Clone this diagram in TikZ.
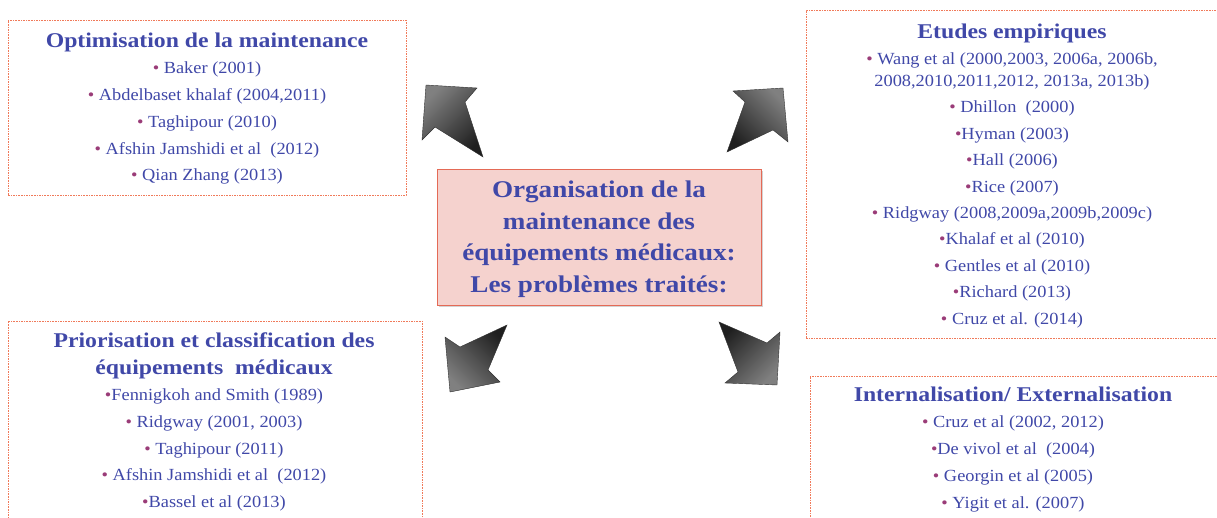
\documentclass[tikz,border=0pt]{standalone}
\usepackage{fontspec}
\setmainfont{Liberation Serif}[FakeStretch=1.08, BoldFeatures={FakeStretch=1.13}]
\usetikzlibrary{shadows}

\definecolor{txtblue}{HTML}{4048A8}
\definecolor{bulred}{HTML}{9A3C78}
\definecolor{dashred}{HTML}{F07A5A}
\definecolor{pinkfill}{HTML}{F5D2CE}
\definecolor{pinkline}{HTML}{E46A56}

\newcommand{\bul}{{\color{bulred}\textbullet}}
\newcommand{\titlefont}{\fontsize{21}{26}\bfseries\selectfont}

\tikzset{
	refframe/.style={draw=dashred, dash pattern=on 1.6pt off 1pt, line width=0.8pt, inner sep=0pt},
	reftext/.style={text=txtblue, align=center, inner sep=0pt, font=\fontsize{17}{26.7}\selectfont},
	mainbox/.style={draw=pinkline, fill=pinkfill, line width=0.9pt, inner sep=0pt, drop shadow={opacity=0.35}},
	bigarrow/.style={draw=black!80, line width=0.4pt, top color=black!50, bottom color=black!88, shading angle=#1}
}

\begin{document}
\begin{tikzpicture}[x=1pt, y=-1pt]
\path[use as bounding box] (0,0) rectangle (1217,518);
\clip (0,0) rectangle (1217,518);

% frames
\node[refframe, minimum width=398pt, minimum height=175pt] (optimframe) at (207,107.5) {};
\node[refframe, minimum width=414pt, minimum height=328pt] (empirframe) at (1013,174) {};
\node[refframe, minimum width=414pt, minimum height=219pt] (priorframe) at (215,430.5) {};
\node[refframe, minimum width=410pt, minimum height=164pt] (internframe) at (1015,458) {};

% centre
\node[mainbox, minimum width=324pt, minimum height=136pt] (centre) at (599,237) {};
\node[text=txtblue, align=center, inner sep=0pt, font=\fontsize{24}{31.5}\bfseries\selectfont] (theme) at (599,239) {Organisation de la\\ maintenance des\\ équipements médicaux:\\ Les problèmes traités:};

% texts
\node[reftext, anchor=north] (optim) at (207,32.5) {{\titlefont Optimisation de la maintenance}\\
	\bul\ Baker (2001)\\
	\bul\ Abdelbaset khalaf (2004,2011)\\
	\bul\ Taghipour (2010)\\
	\bul\ Afshin Jamshidi et al \ (2012)\\
	\bul\ Qian Zhang (2013)};

\node[reftext, anchor=north, font=\fontsize{17}{26.4}\selectfont] (empir) at (1012,23.5) {{\titlefont Etudes empiriques}\\
	\bul\ Wang et al (2000,2003, 2006a, 2006b,\\[-4.5pt]
	2008,2010,2011,2012, 2013a, 2013b)\\
	\bul\ Dhillon \ (2000)\\
	\bul Hyman (2003)\\
	\bul Hall (2006)\\
	\bul Rice (2007)\\
	\bul\ Ridgway (2008,2009a,2009b,2009c)\\
	\bul Khalaf et al (2010)\\
	\bul\ Gentles et al (2010)\\
	\bul Richard (2013)\\
	\bul\ Cruz et al. (2014)};

\node[reftext, anchor=north] (prior) at (214,332.5) {{\titlefont Priorisation et classification des}\\
	{\titlefont équipements \ médicaux}\\
	\bul Fennigkoh and Smith (1989)\\
	\bul\ Ridgway (2001, 2003)\\
	\bul\ Taghipour (2011)\\
	\bul\ Afshin Jamshidi et al \ (2012)\\
	\bul Bassel et al (2013)};

\node[reftext, anchor=north] (intern) at (1013,386.5) {{\titlefont Internalisation/ Externalisation}\\
	\bul\ Cruz et al (2002, 2012)\\
	\bul De vivol et al \ (2004)\\
	\bul\ Georgin et al (2005)\\
	\bul\ Yigit et al. (2007)};

% arrows
\draw[bigarrow=45] (426,85) -- (477,88) -- (465,102) -- (483,157) -- (435,127) -- (422,140) -- cycle;
\draw[bigarrow=-45] (783,88) -- (788,142) -- (773,130) -- (727,152) -- (745,102) -- (733,91) -- cycle;
\draw[bigarrow=135] (450,392) -- (445,337) -- (460,347) -- (507,325) -- (488,370) -- (500,382) -- cycle;
\draw[bigarrow=-135] (777,385) -- (780,332) -- (767,343) -- (719,322) -- (738,372) -- (725,383) -- cycle;
\end{tikzpicture}
\end{document}
